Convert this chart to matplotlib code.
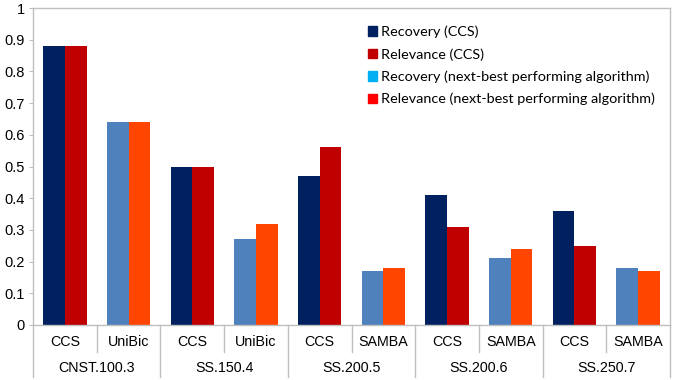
import numpy as np
import matplotlib
matplotlib.use('Agg')
from matplotlib import pyplot as plt
from matplotlib.patches import Patch
from matplotlib.lines import Line2D

datasets = ['CNST.100.3', 'SS.150.4', 'SS.200.5', 'SS.200.6', 'SS.250.7']
next_best = ['UniBic', 'UniBic', 'SAMBA', 'SAMBA', 'SAMBA']
recovery_ccs = [0.88, 0.50, 0.47, 0.41, 0.36]
relevance_ccs = [0.88, 0.50, 0.56, 0.31, 0.25]
recovery_nb = [0.64, 0.27, 0.17, 0.21, 0.18]
relevance_nb = [0.64, 0.32, 0.18, 0.24, 0.17]
legend_labels = ['Recovery (CCS)', 'Relevance (CCS)',
                 'Recovery (next-best performing algorithm)',
                 'Relevance (next-best performing algorithm)']

navy = '#002060'
darkred = '#C00000'
steel = '#4F81BD'
orange = '#FF4500'
gray = '#BFBFBF'

plt.rcParams['font.family'] = ['Liberation Sans', 'DejaVu Sans']

fig = plt.figure(figsize=(6.75, 3.8), dpi=100)
ax = fig.add_axes([33 / 675, 55 / 380, 637 / 675, 317 / 380])

n = len(datasets)
w = 0.34
ccs_x = np.arange(n) * 2
nb_x = ccs_x + 1
ax.bar(ccs_x - w / 2, recovery_ccs, w, color=navy)
ax.bar(ccs_x + w / 2, relevance_ccs, w, color=darkred)
ax.bar(nb_x - w / 2, recovery_nb, w, color=steel)
ax.bar(nb_x + w / 2, relevance_nb, w, color=orange)

ax.set_xlim(-0.5, 2 * n - 0.5)
ax.set_ylim(0, 1)
ax.set_yticks(np.arange(0, 1.01, 0.1))
ax.set_yticklabels(['0'] + ['%.1f' % v for v in np.arange(0.1, 0.95, 0.1)] + ['1'])
ax.tick_params(axis='y', labelsize=10.5, length=3, color=gray, pad=3)
ax.set_xticks([])
for s in ax.spines.values():
    s.set_color(gray)
    s.set_linewidth(1)

# two-level category axis
trans = ax.get_xaxis_transform()
for i in range(n):
    ax.text(ccs_x[i], -0.055, 'CCS', transform=trans, ha='center', va='center', fontsize=10.3)
    ax.text(nb_x[i], -0.055, next_best[i], transform=trans, ha='center', va='center', fontsize=10.3)
    ax.text(ccs_x[i] + 0.5, -0.135, datasets[i], transform=trans, ha='center', va='center', fontsize=10.3)
    ax.add_line(Line2D([nb_x[i] - 0.5] * 2, [0, -0.085], transform=trans, color=gray, lw=1, clip_on=False))
for b in range(n + 1):
    ax.add_line(Line2D([2 * b - 0.5] * 2, [0, -0.165], transform=trans, color=gray, lw=1, clip_on=False))

handles = [Patch(color=c) for c in [navy, darkred, '#00B0F0', '#FF0000']]
ax.legend(handles, legend_labels, loc='upper left', bbox_to_anchor=(0.505, 0.985),
          frameon=False, prop={'family': 'Lato', 'size': 10.4}, handlelength=0.65,
          handleheight=0.65, handletextpad=0.3, labelspacing=0.68)

plt.savefig('out.png', dpi=100)
